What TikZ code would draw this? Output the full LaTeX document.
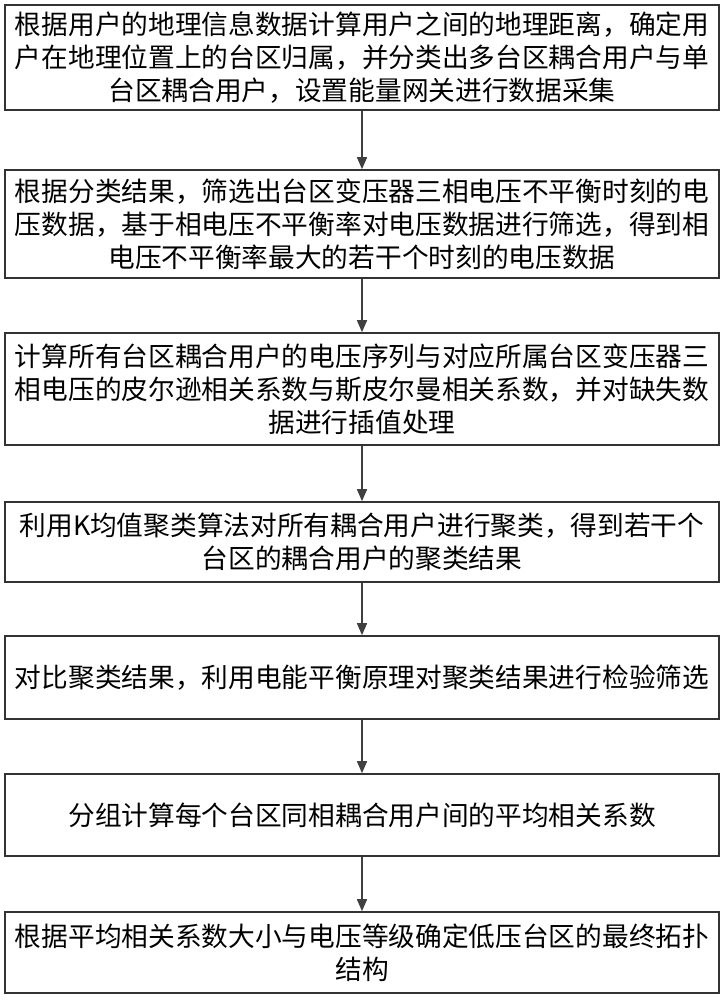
\documentclass[tikz,border=0pt]{standalone}
\usepackage{fontspec}
\setmainfont{Noto Sans CJK SC}
\usetikzlibrary{arrows.meta}
\begin{document}
\begin{tikzpicture}[x=1pt,y=1pt,
  box/.style={draw=black!80,line width=1.6pt,minimum width=714pt,text width=712pt,align=center,inner sep=1pt,font=\fontsize{26.7}{33}\selectfont},
  arr/.style={draw=black!75,line width=1.5pt,-{Triangle[length=12pt,width=10pt]}}]
\useasboundingbox (0,0) rectangle (725,-1000);
\node[box,minimum height=105pt] (b1) at (362,-57.5) {根据用户的地理信息数据计算用户之间的地理距离，确定用\\户在地理位置上的台区归属，并分类出多台区耦合用户与单\\台区耦合用户，设置能量网关进行数据采集};
\node[box,minimum height=108pt] (b2) at (362,-224) {根据分类结果，筛选出台区变压器三相电压不平衡时刻的电\\压数据，基于相电压不平衡率对电压数据进行筛选，得到相\\电压不平衡率最大的若干个时刻的电压数据};
\node[box,minimum height=112pt] (b3) at (362,-389) {计算所有台区耦合用户的电压序列与对应所属台区变压器三\\相电压的皮尔逊相关系数与斯皮尔曼相关系数，并对缺失数\\据进行插值处理};
\node[box,minimum height=80pt] (b4) at (362,-542) {利用K均值聚类算法对所有耦合用户进行聚类，得到若干个\\台区的耦合用户的聚类结果};
\node[box,minimum height=83pt] (b5) at (362,-677.5) {对比聚类结果，利用电能平衡原理对聚类结果进行检验筛选};
\node[box,minimum height=82pt] (b6) at (362,-815) {分组计算每个台区同相耦合用户间的平均相关系数};
\node[box,minimum height=81pt] (b7) at (362,-952.5) {根据平均相关系数大小与电压等级确定低压台区的最终拓扑\\结构};
\draw[arr] (b1) -- (b2);
\draw[arr] (b2) -- (b3);
\draw[arr] (b3) -- (b4);
\draw[arr] (b4) -- (b5);
\draw[arr] (b5) -- (b6);
\draw[arr] (b6) -- (b7);
\end{tikzpicture}
\end{document}
